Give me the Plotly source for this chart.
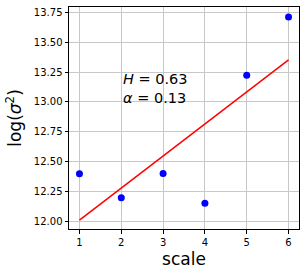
import plotly.graph_objects as go

scale = [1, 2, 3, 4, 5, 6]
log_var = [12.397, 12.196, 12.400, 12.149, 13.224, 13.714]
fit_x = [1, 6]
fit_y = [12.008, 13.353]
y_ticks = [12.00, 12.25, 12.50, 12.75, 13.00, 13.25, 13.50, 13.75]
x_ticks = [1, 2, 3, 4, 5, 6]
annot_text = "<i>H</i> = 0.63<br><i>α</i> = 0.13"

fig = go.Figure()
fig.add_trace(go.Scatter(x=scale, y=log_var, mode="markers",
                         marker=dict(color="blue", size=7), showlegend=False))
fig.add_trace(go.Scatter(x=fit_x, y=fit_y, mode="lines",
                         line=dict(color="red", width=1.5), showlegend=False))

fig.add_annotation(x=2, y=13.11, xref="x", yref="y", text=annot_text,
                   showarrow=False, xanchor="left", yanchor="middle", align="left",
                   font=dict(family="DejaVu Sans", size=14.5, color="black"))

axis_common = dict(showline=True, linecolor="black", linewidth=1, mirror=True,
                   ticks="outside", ticklen=3.5, tickcolor="black", automargin=False,
                   showgrid=True, gridcolor="#c8c8c8", gridwidth=1, zeroline=False,
                   tickfont=dict(family="DejaVu Sans", size=10, color="black"))

fig.update_xaxes(range=[0.75, 6.25], tickvals=x_ticks,
                 title=dict(text="scale", font=dict(family="DejaVu Sans", size=17, color="black"), standoff=6),
                 **axis_common)
fig.update_yaxes(range=[11.933, 13.798], tickvals=y_ticks, tickformat=".2f",
                 title=dict(text="log(<i>σ</i><sup>2</sup>)", font=dict(family="DejaVu Sans", size=17, color="black"), standoff=7),
                 **axis_common)

fig.update_layout(width=306, height=277, margin=dict(l=69, r=7, t=7, b=48, autoexpand=False),
                  plot_bgcolor="white", paper_bgcolor="white")
fig.write_html("out.html", config={"displayModeBar": False},
               post_script="document.body.style.margin='0';document.body.style.padding='0';")
